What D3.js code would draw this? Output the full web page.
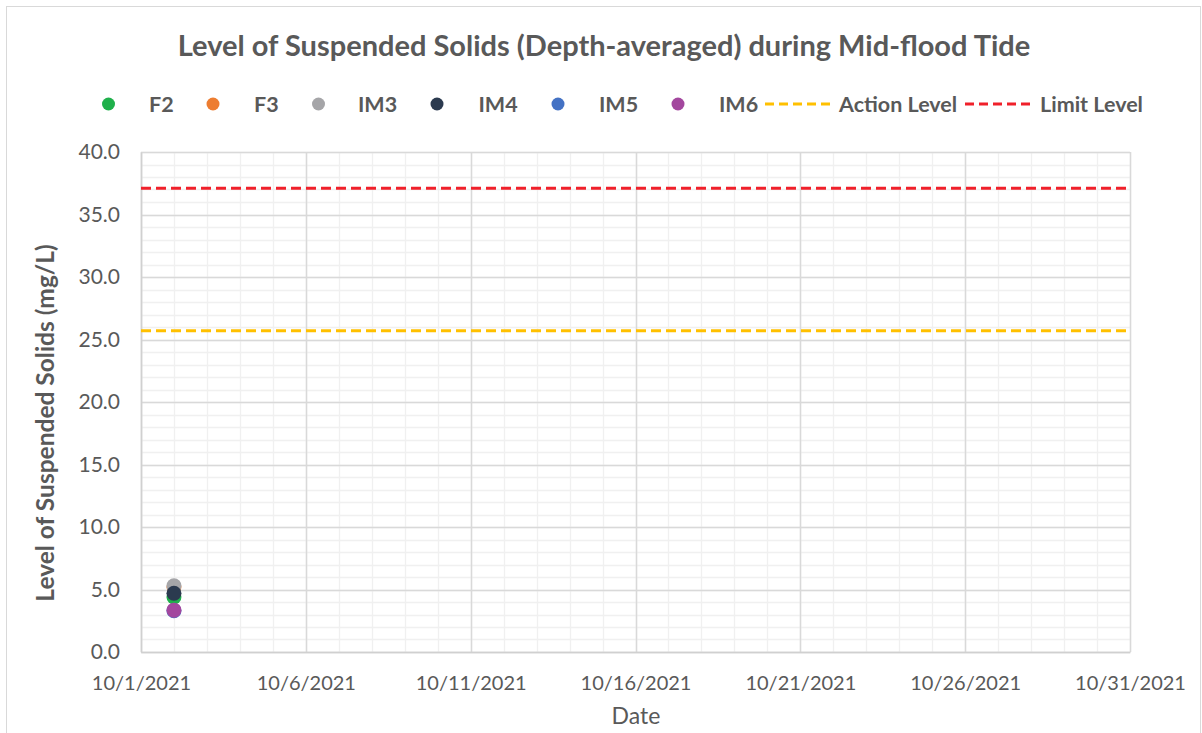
<!DOCTYPE html>
<html>
<head>
<meta charset="utf-8">
<script src="https://cdn.jsdelivr.net/npm/d3@7"></script>
<style>
  html, body { margin: 0; padding: 0; background: #fff; }
  svg { display: block; }
  text { font-family: Lato, "Open Sans", sans-serif; }
</style>
</head>
<body>
<svg id="chart" width="1202" height="733"></svg>
<script>
// ---- data ----
const seriesNames = ["F2", "F3", "IM3", "IM4", "IM5", "IM6"];
const seriesColors = ["#1fb04b", "#ed7d31", "#a5a5a8", "#2b3a4f", "#4472c4", "#a3479e"];
const sampleDates = ["2021-10-02"];
const F2  = [4.4];
const F3  = [5.2];
const IM3 = [5.3];
const IM4 = [4.7];
const IM5 = [3.3];
const IM6 = [3.35];
const actionLevel = 25.7;
const limitLevel = 37.1;
const yTicks = [0, 5, 10, 15, 20, 25, 30, 35, 40];
const xStart = "2021-10-01";
const xEnd = "2021-10-31";
const titleText = "Level of Suspended Solids (Depth-averaged) during Mid-flood Tide";
const yTitle = "Level of Suspended Solids (mg/L)";
const xTitle = "Date";

// ---- layout ----
const svg = d3.select("#chart");
const plot = { left: 141, top: 152, right: 1130, bottom: 652 };
const parse = s => { const [y, m, d] = s.split("-").map(Number); return new Date(y, m - 1, d); };

svg.append("rect").attr("x", 6.5).attr("y", 6.5).attr("width", 1194).attr("height", 760)
  .attr("fill", "#fff").attr("stroke", "#d9d9d9").attr("stroke-width", 1);

const x = d3.scaleTime().domain([parse(xStart), parse(xEnd)]).range([plot.left, plot.right]);
const y = d3.scaleLinear().domain([0, 40]).range([plot.bottom, plot.top]);

const textColor = "#595959";

// minor gridlines
const g = svg.append("g");
g.selectAll(".hminor").data(d3.range(0, 41, 1)).join("line")
  .attr("x1", plot.left).attr("x2", plot.right)
  .attr("y1", d => Math.round(y(d)) + 0.5).attr("y2", d => Math.round(y(d)) + 0.5)
  .attr("stroke", "#f0f0f0").attr("stroke-width", 1.3);
g.selectAll(".vminor").data(d3.timeDay.range(parse(xStart), d3.timeDay.offset(parse(xEnd), 1))).join("line")
  .attr("x1", d => Math.round(x(d)) + 0.5).attr("x2", d => Math.round(x(d)) + 0.5)
  .attr("y1", plot.top).attr("y2", plot.bottom)
  .attr("stroke", "#f0f0f0").attr("stroke-width", 1.3);
// major gridlines
const xMajor = d3.timeDay.every(5).range(parse(xStart), d3.timeDay.offset(parse(xEnd), 1));
g.selectAll(".hmajor").data(yTicks).join("line")
  .attr("x1", plot.left).attr("x2", plot.right)
  .attr("y1", d => Math.round(y(d)) + 0.5).attr("y2", d => Math.round(y(d)) + 0.5)
  .attr("stroke", "#d9d9d9").attr("stroke-width", 1.5);
g.selectAll(".vmajor").data(xMajor).join("line")
  .attr("x1", d => Math.round(x(d)) + 0.5).attr("x2", d => Math.round(x(d)) + 0.5)
  .attr("y1", plot.top).attr("y2", plot.bottom)
  .attr("stroke", "#d9d9d9").attr("stroke-width", 1.5);

// axes
const fmt = d => `${d.getMonth() + 1}/${d.getDate()}/${d.getFullYear()}`;
const xAxis = svg.append("g").attr("transform", `translate(0,${plot.bottom})`)
  .call(d3.axisBottom(x).tickValues(xMajor).tickFormat(fmt).tickSize(0).tickPadding(24));
xAxis.select(".domain").attr("stroke", "#d0d0d0").attr("stroke-width", 1.5);
xAxis.selectAll("text").attr("fill", textColor).attr("font-size", 20);

const yAxis = svg.append("g").attr("transform", `translate(${plot.left},0)`)
  .call(d3.axisLeft(y).tickValues(yTicks).tickFormat(d3.format(".1f")).tickSize(0).tickPadding(21));
yAxis.select(".domain").attr("stroke", "#d0d0d0").attr("stroke-width", 1.5);
yAxis.selectAll("text").attr("fill", textColor).attr("font-size", 21);

// reference lines
const refLine = (val, color) => svg.append("line")
  .attr("x1", plot.left).attr("x2", plot.right)
  .attr("y1", y(val)).attr("y2", y(val))
  .attr("stroke", color).attr("stroke-width", 3).attr("stroke-dasharray", "10,5");
refLine(actionLevel, "#ffc000");
refLine(limitLevel, "#f0202a");

// points
const allSeries = [F2, F3, IM3, IM4, IM5, IM6];
allSeries.forEach((vals, i) => {
  svg.append("g").selectAll("circle").data(vals.map((v, j) => ({ d: parse(sampleDates[j]), v })))
    .join("circle")
    .attr("cx", d => x(d.d)).attr("cy", d => y(d.v)).attr("r", 7.5)
    .attr("fill", seriesColors[i]);
});

// title
svg.append("text").attr("x", 604).attr("y", 56).attr("text-anchor", "middle")
  .attr("font-size", 29).attr("font-weight", "bold").attr("fill", textColor).text(titleText);

// axis titles
svg.append("text").attr("transform", `translate(54,${423}) rotate(-90)`).attr("text-anchor", "middle")
  .attr("font-size", 24.5).attr("font-weight", "bold").attr("fill", textColor).text(yTitle);
svg.append("text").attr("x", 636).attr("y", 724).attr("text-anchor", "middle")
  .attr("font-size", 23).attr("fill", textColor).text(xTitle);

// legend
const legY = 104;
const legendMarkerX = [108.5, 213, 318.5, 437, 558, 678];
const legendTextX = [149, 254, 358, 478.5, 599, 719];
seriesNames.forEach((n, i) => {
  svg.append("circle").attr("cx", legendMarkerX[i]).attr("cy", legY).attr("r", 6.5).attr("fill", seriesColors[i]);
  svg.append("text").attr("x", legendTextX[i]).attr("y", legY + 7.5).attr("font-size", 21.5)
    .attr("font-weight", "bold").attr("fill", textColor).text(n);
});
const lineLegend = [
  { name: "Action Level", color: "#ffc000", x1: 765, x2: 833, tx: 839 },
  { name: "Limit Level", color: "#f0202a", x1: 965, x2: 1033, tx: 1040 }
];
lineLegend.forEach(l => {
  svg.append("line").attr("x1", l.x1).attr("x2", l.x2).attr("y1", legY).attr("y2", legY)
    .attr("stroke", l.color).attr("stroke-width", 3).attr("stroke-dasharray", "9,5");
  svg.append("text").attr("x", l.tx).attr("y", legY + 7.5).attr("font-size", 21.5)
    .attr("font-weight", "bold").attr("fill", textColor).text(l.name);
});
</script>
</body>
</html>
